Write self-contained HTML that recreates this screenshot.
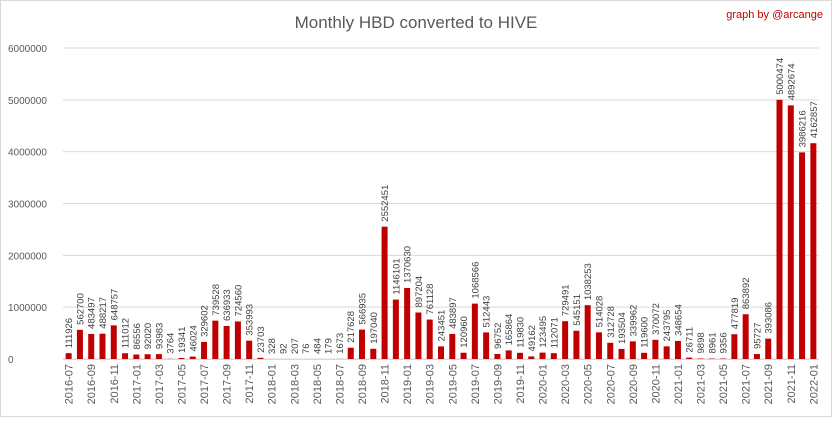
<!DOCTYPE html>
<html><head><meta charset="utf-8"><style>
html,body{margin:0;padding:0;background:#fff}
body{width:832px;height:417px;overflow:hidden;font-family:"Liberation Sans",sans-serif}
#wrap{position:relative;width:830px;height:415px;border:1px solid #d9d9d9}
</style></head><body>
<div id="wrap">
<svg id="chart" width="830" height="415" xmlns="http://www.w3.org/2000/svg">
<text x="415" y="27" text-anchor="middle" font-size="17" fill="#595959" font-family="Liberation Sans, sans-serif">Monthly HBD converted to  HIVE</text>
<text x="822" y="17" text-anchor="end" font-size="11" fill="#c00000" font-family="Liberation Sans, sans-serif">graph by @arcange</text>
<g id="grid"></g><g id="bars"></g><g id="labels"></g><g id="xlabels"></g>
</svg>
</div>
<script>
const categories = [];
(function(){let y=2016,m=7;for(let i=0;i<67;i++){categories.push(y+'-'+String(m).padStart(2,'0'));m++;if(m>12){m=1;y++;}}})();
const values = [111926,562700,483497,488217,648757,111012,
86556,92020,93983,3764,19341,46024,329602,739528,636933,724560,353993,23703,
328,92,207,76,484,179,1673,217628,566935,197040,2552451,1146101,
1370630,897204,761128,243451,483897,120960,1068566,512443,96752,165864,119830,49162,
123495,112071,729491,545151,1038253,514028,312728,193504,339962,119600,370072,243795,
348654,26711,9898,8961,9356,477819,863892,95727,393086,5000474,4892674,3986216,
4162857];
const yTicks = [0,1000000,2000000,3000000,4000000,5000000,6000000];
const NS='http://www.w3.org/2000/svg';
const y0=358, yTop=47, yMax=6000000, xL=62, xR=818;
const yScale=v=>y0-(v/yMax)*(y0-yTop);
const step=(xR-xL)/categories.length;
const xScale=i=>xL+step*(i+0.5);
function mk(tag,attrs,parent){const e=document.createElementNS(NS,tag);for(const k in attrs)e.setAttribute(k,attrs[k]);parent.appendChild(e);return e;}
const grid=document.getElementById('grid'),bars=document.getElementById('bars'),labels=document.getElementById('labels'),xl=document.getElementById('xlabels');
yTicks.forEach(t=>{
  const y=yScale(t);
  const l=mk('line',{x1:xL,x2:xR,y1:y,y2:y,stroke:'#d9d9d9','stroke-width':1},grid);
  
  
  const tx=mk('text',{x:7,y:y+4,'font-size':10,fill:'#595959'},grid);
  tx.textContent=String(t);
  
  
});
values.forEach((v,i)=>{
  const cx=xScale(i),y=yScale(v);
  const r=mk('rect',{x:cx-3,y:y,width:6,height:Math.max(0,y0-y),fill:'#c00000'},bars);
  
  
  const t=mk('text',{x:0,y:0,'font-size':9.5,fill:'#404040',transform:'translate('+(cx+3.5)+','+(y-5)+') rotate(-90)'},labels);
  t.textContent=String(v);
  
  
  if(i%2===0){
    const xt=mk('text',{x:0,y:0,'font-size':11,fill:'#595959','text-anchor':'end',transform:'translate('+(cx+4)+','+(y0+5)+') rotate(-90)'},xl);
    xt.textContent=categories[i];
    
    
  }
});
const ax=mk('line',{x1:xL,x2:xR,y1:y0+0.5,y2:y0+0.5,stroke:'#d9d9d9','stroke-width':1},grid);


</script>
</body></html>
